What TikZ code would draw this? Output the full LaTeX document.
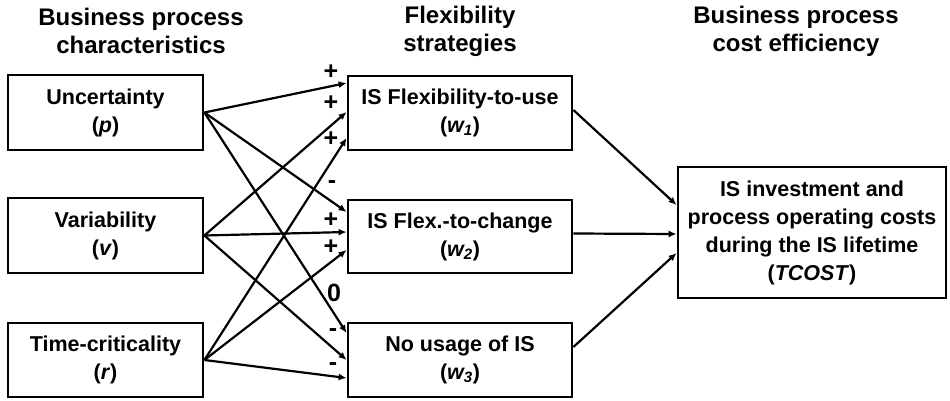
\documentclass[tikz,border=0pt]{standalone}
\usepackage{fontspec}
\setmainfont{Liberation Sans}
\usetikzlibrary{arrows.meta}
\tikzset{
  box/.style={draw, line width=2.8pt, align=center, inner sep=0pt,
    font=\bfseries\fontsize{21.5}{28}\selectfont},
  title/.style={align=center, font=\bfseries\fontsize{24}{28}\selectfont},
  link/.style={line width=2.2pt, -{Latex[length=8pt,width=7pt]}},
  sign/.style={inner sep=0pt, font=\bfseries\fontsize{25}{25}\selectfont},
}
\begin{document}
\begin{tikzpicture}[x=1pt,y=-1pt]
  \useasboundingbox (0,0) rectangle (950,401);
  % column titles
  \node[title] (ttlchar) at (141,31) {Business process\\characteristics};
  \node[title] (ttlflex) at (460,31) {Flexibility\\strategies};
  \node[title] (ttlcost) at (796,31) {Business process\\cost efficiency};
  % process characteristics
  \node[box, minimum width=195pt, minimum height=75pt] (unc) at (105.5,112.5) {Uncertainty\\(\textit{p})};
  \node[box, minimum width=195pt, minimum height=75pt] (var) at (105.5,235.5) {Variability\\(\textit{v})};
  \node[box, minimum width=195pt, minimum height=74pt] (tim) at (105.5,360) {Time-criticality\\(\textit{r})};
  % flexibility strategies
  \node[box, minimum width=224pt, minimum height=74pt] (use) at (460,113) {IS Flexibility-to-use\\(\textit{w\textsubscript{1}})};
  \node[box, minimum width=224pt, minimum height=73pt] (chg) at (460,236.5) {IS Flex.-to-change\\(\textit{w\textsubscript{2}})};
  \node[box, minimum width=224pt, minimum height=74pt] (nou) at (460,360) {No usage of IS\\(\textit{w\textsubscript{3}})};
  % cost efficiency
  \node[box, minimum width=268pt, minimum height=131pt] (cost) at (812,232.5) {IS investment and\\process operating costs\\during the IS lifetime\\(\textit{TCOST})};
  % characteristics -> strategies
  \foreach \src/\dst/\dy in {unc/use/30, var/use/1, tim/use/-25,
                             unc/chg/24.5, var/chg/4.5, tim/chg/-13.5,
                             unc/nou/27, var/nou/0, tim/nou/-18}
    \draw[link] (\src.east) -- ([yshift=\dy pt]\dst.west);
  % strategies -> costs
  \draw[link] ([yshift=3pt]use.east) -- ([yshift=27.5pt]cost.west);
  \draw[link] ([yshift=3pt]chg.east) -- ([yshift=-1.5pt]cost.west);
  \draw[link] ([yshift=13pt]nou.east) -- ([yshift=-20.5pt]cost.west);
  % effect signs
  \foreach \x/\y/\s [count=\i] in {331/72/+, 331/103/+, 331/139/+,
                                   332/185/-, 331/220/+, 331/247/+,
                                   334/293/0, 333/333/-, 333/367/-}
    \node[sign] (sign\i) at (\x,\y) {\s};
\end{tikzpicture}
\end{document}
